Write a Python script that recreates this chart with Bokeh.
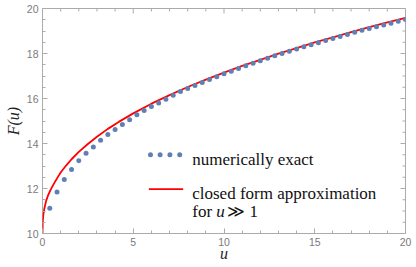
import math
from bokeh.plotting import figure
from bokeh.models import Range1d, FixedTicker, Label
from bokeh.embed import file_html
from bokeh.resources import INLINE

# ---- data ----
u_exact = [0.4, 0.8, 1.2, 1.6, 2.0, 2.4, 2.8, 3.2, 3.6, 4.0,
           4.4, 4.8, 5.2, 5.6, 6.0, 6.4, 6.8, 7.2, 7.6, 8.0,
           8.4, 8.8, 9.2, 9.6, 10.0, 10.4, 10.8, 11.2, 11.6, 12.0,
           12.4, 12.8, 13.2, 13.6, 14.0, 14.4, 14.8, 15.2, 15.6, 16.0,
           16.4, 16.8, 17.2, 17.6, 18.0, 18.4, 18.8, 19.2, 19.6, 20.0]
F_exact = [11.12, 11.85, 12.40, 12.84, 13.23, 13.57, 13.85, 14.14, 14.40, 14.62,
           14.84, 15.06, 15.28, 15.47, 15.64, 15.80, 15.97, 16.14, 16.31, 16.45,
           16.58, 16.71, 16.84, 16.97, 17.10, 17.21, 17.33, 17.46, 17.57, 17.68,
           17.79, 17.90, 18.00, 18.10, 18.20, 18.30, 18.39, 18.48, 18.58, 18.67,
           18.76, 18.85, 18.94, 19.03, 19.11, 19.19, 19.27, 19.35, 19.43, 19.51]

u_approx = [0.0, 0.01, 0.02, 0.05, 0.1, 0.2, 0.3, 0.45, 0.6, 0.8,
            1.0, 1.3, 1.6, 2.0, 2.5, 3.0, 3.6, 4.2, 5.0, 6.0,
            7.0, 8.0, 9.0, 10.0, 11.0, 12.0, 13.0, 14.0, 15.0, 16.0,
            17.0, 18.0, 19.0, 20.0]
F_approx = [10.0, 10.45, 10.6, 10.85, 11.1, 11.45, 11.68, 11.95, 12.17, 12.45,
            12.71, 13.02, 13.30, 13.63, 13.98, 14.30, 14.65, 14.96, 15.34, 15.77,
            16.15, 16.51, 16.84, 17.15, 17.45, 17.72, 17.99, 18.24, 18.49, 18.72,
            18.95, 19.17, 19.38, 19.58]

x_ticks = [0, 5, 10, 15, 20]
x_minor = [1, 2, 3, 4, 6, 7, 8, 9, 11, 12, 13, 14, 16, 17, 18, 19]
y_ticks = [10, 12, 14, 16, 18, 20]
y_minor = [10.5, 11, 11.5, 12.5, 13, 13.5, 14.5, 15, 15.5, 16.5, 17, 17.5,
           18.5, 19, 19.5]

legend_exact = "numerically exact"
legend_approx = "closed form approximation"
legend_approx2 = ["for", "u", "\u226b 1"]
x_title = "u"
y_title = "F(u)"

# ---- styles ----
FRAME = "#ababab"
TICK_TXT = "#7a7a7a"
BLUE = "#5E81B5"
RED = "#ff0000"
SERIF = "Liberation Serif"
X0, X1, Y0, Y1 = 0, 20, 10, 20

p = figure(width=416, height=267, x_range=Range1d(X0, X1), y_range=Range1d(Y0, Y1),
           output_backend="svg", toolbar_location=None,
           min_border_left=42, min_border_right=11, min_border_top=8, min_border_bottom=34,
           background_fill_color="white", border_fill_color="white",
           outline_line_color=FRAME, outline_line_width=1)
p.xgrid.visible = False
p.ygrid.visible = False


def style_axis(ax, ticks, minor):
    ax.ticker = FixedTicker(ticks=ticks, minor_ticks=minor)
    ax.axis_line_color = None
    ax.major_tick_line_color = FRAME
    ax.minor_tick_line_color = FRAME
    ax.major_tick_in = 5
    ax.major_tick_out = 0
    ax.minor_tick_in = 3
    ax.minor_tick_out = 0
    ax.major_label_text_font = "Liberation Sans"
    ax.major_label_text_color = TICK_TXT
    ax.major_label_text_font_size = "10.5px"
    ax.major_label_standoff = 4
    ax.axis_label_text_font = SERIF
    ax.axis_label_text_font_style = "italic"
    ax.axis_label_text_font_size = "16px"
    ax.axis_label_text_color = "#222222"


style_axis(p.xaxis[0], x_ticks, x_minor)
style_axis(p.yaxis[0], y_ticks, y_minor)
p.xaxis[0].axis_label = x_title
p.xaxis[0].axis_label_standoff = -4
p.yaxis[0].axis_label = y_title
p.yaxis[0].axis_label_standoff = 2

# tick marks on the top and right sides of the frame (inward, no labels)
p.scatter(x_ticks, [Y1] * len(x_ticks), marker="dash", angle=math.pi / 2, size=10,
          line_color=FRAME, line_width=1)
p.scatter(x_minor, [Y1] * len(x_minor), marker="dash", angle=math.pi / 2, size=6,
          line_color=FRAME, line_width=1)
p.scatter([X1] * len(y_ticks), y_ticks, marker="dash", size=10,
          line_color=FRAME, line_width=1)
p.scatter([X1] * len(y_minor), y_minor, marker="dash", size=6,
          line_color=FRAME, line_width=1)

# ---- data marks ----
p.line(u_approx, F_approx, line_color=RED, line_width=1.8)
p.scatter(u_exact, F_exact, size=5, fill_color=BLUE, line_color=None)

# ---- legend ----
p.scatter([5.95, 6.48, 7.02, 7.56], [13.50] * 4, size=5, fill_color=BLUE, line_color=None)
p.line([5.86, 7.75], [11.97, 11.97], line_color=RED, line_width=1.8)
leg_kw = dict(text_font=SERIF, text_font_size="17px", text_baseline="alphabetic",
              text_align="left", text_color="#111111")
p.add_layout(Label(x=8.25, y=13.276, text=legend_exact, **leg_kw))
p.add_layout(Label(x=8.25, y=11.764, text=legend_approx, **leg_kw))
p.add_layout(Label(x=8.25, y=10.978, text=legend_approx2[0], **leg_kw))
p.add_layout(Label(x=8.25, y=10.978, x_offset=24, text=legend_approx2[1],
                   text_font_style="italic", **leg_kw))
p.add_layout(Label(x=8.25, y=10.978, x_offset=35, text=legend_approx2[2], **leg_kw))

open("out.html", "w").write(file_html(p, INLINE))
